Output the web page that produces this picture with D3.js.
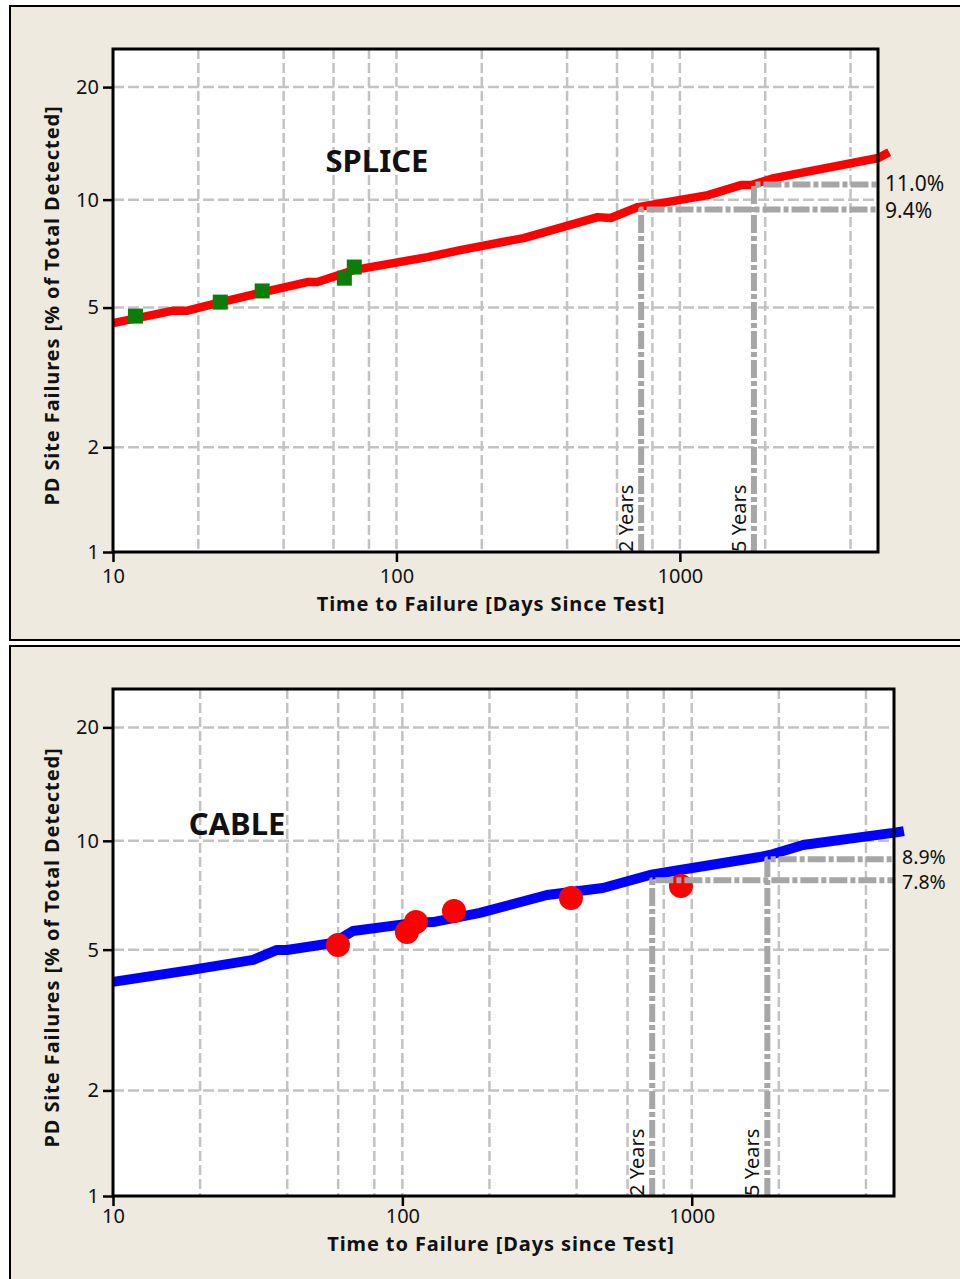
<!DOCTYPE html>
<html><head><meta charset="utf-8">
<script src="https://cdn.jsdelivr.net/npm/d3@7"></script>
<style>
html,body{margin:0;padding:0;background:#fff;}
svg{display:block;}
text{font-family:"Noto Sans","DejaVu Sans",sans-serif;fill:#111;}
</style></head>
<body>
<script>
// ---------- DATA ----------
const xTicks = [10, 100, 1000];
const yTicks = [1, 2, 5, 10, 20];
const xGrid = [20, 40, 60, 80, 100, 200, 400, 600, 800, 1000, 2000, 4000];
const yGrid = [2, 5, 10, 20];
const milestoneDays = [730, 1825];
const milestoneLabels = ["2 Years", "5 Years"];

// SPLICE panel
const spliceFitDays = [10, 16.3, 18.3, 23.3, 33.9, 48.5, 52.6, 70.5, 128.7, 168, 281, 513, 570, 711, 1256, 1643, 1782, 2148, 5007, 5476];
const spliceFitPct  = [4.52, 4.90, 4.90, 5.15, 5.53, 5.90, 5.90, 6.37, 6.93, 7.25, 7.83, 8.95, 8.90, 9.54, 10.29, 10.96, 10.96, 11.45, 12.98, 13.46];
const spliceObsDays = [12, 23.9, 33.6, 65.5, 71.0];
const spliceObsPct  = [4.73, 5.18, 5.57, 6.05, 6.50];
const spliceMilestonePct = [9.4, 11.0];
const spliceMilestoneText = ["9.4%", "11.0%"];

// CABLE panel
const cableFitDays = [10, 18.5, 30.5, 36.9, 39.9, 57.6, 67.5, 108.8, 127.6, 185.4, 316, 493, 717, 911, 1720, 1863, 2423, 3905, 4958, 5410];
const cableFitPct  = [4.06, 4.38, 4.68, 4.99, 4.99, 5.22, 5.64, 5.93, 5.97, 6.33, 7.10, 7.42, 8.06, 8.32, 9.03, 9.15, 9.74, 10.25, 10.51, 10.63];
const cableObsDays = [59.9, 103.7, 111.4, 150.8, 382.4, 917.6];
const cableObsPct  = [5.15, 5.60, 5.97, 6.41, 6.96, 7.52];
const cableMilestonePct = [7.8, 8.9];
const cableMilestoneText = ["7.8%", "8.9%"];

// ---------- DRAW ----------
const W = 960, H = 1279;
const svg = d3.select("body").append("svg").attr("width", W).attr("height", H);

const wb = p => Math.log(-Math.log(1 - p / 100)); // Weibull probability transform

const panels = [
  { frameY: 6, frameH: 634, L: 113, T: 49, R: 878, B: 552,
    title: "SPLICE", titleX: 377, titleY: 172,
    xTitle: "Time to Failure [Days Since Test]", xTitleX: 491, xTitleY: 611, xLabelDy: 31,
    fitD: spliceFitDays, fitP: spliceFitPct, fitColor: "#ff0000", fitW: 8.5,
    obsD: spliceObsDays, obsP: spliceObsPct, obsType: "square",
    msP: spliceMilestonePct, msT: spliceMilestoneText, msFont: 21, msNudge: 1.5, msDx: 7 },
  { frameY: 646, frameH: 660, L: 113, T: 689, R: 894, B: 1196,
    title: "CABLE", titleX: 237, titleY: 835,
    xTitle: "Time to Failure [Days since Test]", xTitleX: 501, xTitleY: 1251, xLabelDy: 27,
    fitD: cableFitDays, fitP: cableFitPct, fitColor: "#0000ff", fitW: 10,
    obsD: cableObsDays, obsP: cableObsPct, obsType: "circle",
    msP: cableMilestonePct, msT: cableMilestoneText, msFont: 19.5, msNudge: 2, msDx: 8 }
];

panels.forEach(p => {
  const g = svg.append("g");
  g.append("rect").attr("x", 10).attr("y", p.frameY).attr("width", 980).attr("height", p.frameH)
    .attr("fill", "#eeeae0").attr("stroke", "#000").attr("stroke-width", 2);

  const x = d3.scaleLog().domain([10, 5000]).range([p.L, p.R]);
  const yl = d3.scaleLinear().domain([wb(1), wb(25)]).range([p.B, p.T]);
  const y = v => yl(wb(v));

  g.append("rect").attr("x", p.L).attr("y", p.T).attr("width", p.R - p.L).attr("height", p.B - p.T)
    .attr("fill", "#fff");

  // grid
  g.append("g").selectAll("line").data(xGrid).join("line")
    .attr("x1", d => x(d)).attr("x2", d => x(d)).attr("y1", p.T).attr("y2", p.B)
    .attr("stroke", "#c3c3c3").attr("stroke-width", 2.5).attr("stroke-dasharray", "10,4");
  g.append("g").selectAll("line").data(yGrid).join("line")
    .attr("x1", p.L).attr("x2", p.R).attr("y1", d => y(d)).attr("y2", d => y(d))
    .attr("stroke", "#c3c3c3").attr("stroke-width", 2.5).attr("stroke-dasharray", "11,4");

  // fit line
  const fit = p.fitD.map((d, i) => [d, p.fitP[i]]);
  g.append("path").datum(fit)
    .attr("d", d3.line().x(d => x(d[0])).y(d => y(d[1])))
    .attr("fill", "none").attr("stroke", p.fitColor).attr("stroke-width", p.fitW)
    .attr("stroke-linejoin", "round");

  // observations
  const obs = p.obsD.map((d, i) => [d, p.obsP[i]]);
  if (p.obsType === "square") {
    g.append("g").selectAll("rect").data(obs).join("rect")
      .attr("x", d => x(d[0]) - 7.5).attr("y", d => y(d[1]) - 7.5)
      .attr("width", 15).attr("height", 15).attr("fill", "#0a7d0a");
  } else {
    g.append("g").selectAll("circle").data(obs).join("circle")
      .attr("cx", d => x(d[0])).attr("cy", d => y(d[1])).attr("r", 12).attr("fill", "#ff0000");
  }

  // milestone lines
  milestoneDays.forEach((md, i) => {
    const xx = x(md), yy = y(p.msP[i]);
    g.append("path")
      .attr("d", `M${xx},${p.B}L${xx},${yy}L${p.R},${yy}`)
      .attr("fill", "none").attr("stroke", "#a6a6a6").attr("stroke-width", 6)
      .attr("stroke-dasharray", "18,3,5,3").attr("stroke-linejoin", "round");
    g.append("text")
      .attr("transform", `translate(${xx - 8},${p.B}) rotate(-90)`)
      .attr("font-size", 20).attr("text-anchor", "start")
      .text(milestoneLabels[i]);
    g.append("text")
      .attr("x", p.R + p.msDx).attr("y", yy + (i === 0 ? p.msNudge : -p.msNudge)).attr("dy", "0.36em")
      .attr("font-family", "'Liberation Sans', Arial, sans-serif")
      .attr("font-size", p.msFont).text(p.msT[i]);
  });

  // frame
  g.append("rect").attr("x", p.L).attr("y", p.T).attr("width", p.R - p.L).attr("height", p.B - p.T)
    .attr("fill", "none").attr("stroke", "#000").attr("stroke-width", 3);

  // axes
  const ax = g.append("g").attr("transform", `translate(0,${p.B})`)
    .call(d3.axisBottom(x).tickValues(xTicks).tickFormat(d3.format("d")).tickSize(10).tickPadding(4));
  ax.select(".domain").remove();
  ax.selectAll("line").attr("stroke", "#000").attr("stroke-width", 2.5);
  ax.selectAll("text").attr("font-size", 20).attr("font-family", null).attr("fill", "#111")
    .attr("y", p.xLabelDy).attr("dy", 0);

  const ay = g.append("g").attr("transform", `translate(${p.L},0)`)
    .call(d3.axisLeft(yl).tickValues(yTicks.map(v => wb(v))).tickFormat((d, i) => yTicks[i]).tickSize(10).tickPadding(4));
  ay.select(".domain").remove();
  ay.selectAll("line").attr("stroke", "#000").attr("stroke-width", 2.5);
  ay.selectAll("text").attr("font-size", 20).attr("font-family", null).attr("fill", "#111");

  // titles
  g.append("text").attr("x", p.titleX).attr("y", p.titleY).attr("text-anchor", "middle")
    .attr("font-size", 31).attr("font-weight", "bold").text(p.title);
  g.append("text").attr("x", p.xTitleX).attr("y", p.xTitleY).attr("text-anchor", "middle")
    .attr("font-size", 20).attr("font-weight", "bold").attr("letter-spacing", 0.9).text(p.xTitle);
  g.append("text")
    .attr("transform", `translate(59,${(p.T + p.B) / 2 + 5}) rotate(-90)`)
    .attr("text-anchor", "middle").attr("font-size", 20).attr("font-weight", "bold").attr("letter-spacing", 0.9)
    .text("PD Site Failures [% of Total Detected]");
});
</script>
</body></html>
